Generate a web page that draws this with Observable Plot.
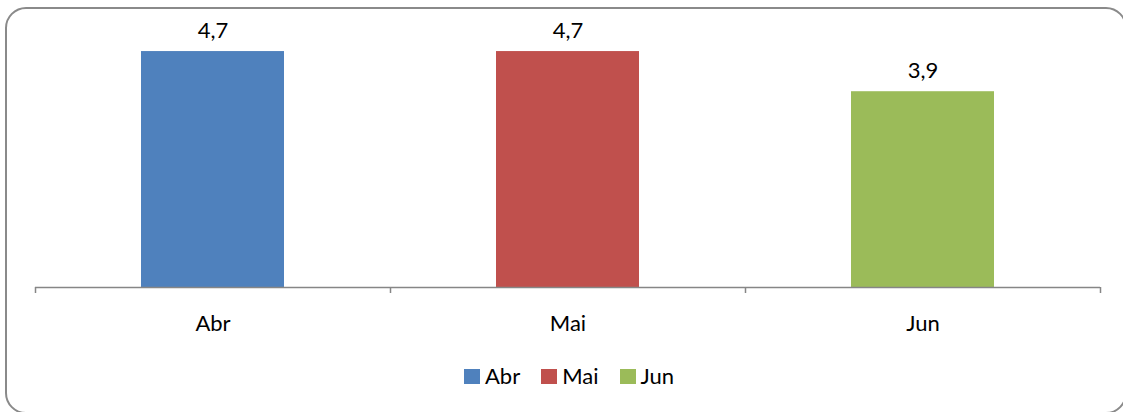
<!DOCTYPE html>
<html>
<head>
<meta charset="utf-8">
<script src="https://cdn.jsdelivr.net/npm/d3@7"></script>
<script src="https://cdn.jsdelivr.net/npm/@observablehq/plot@0.6"></script>
<style>
  html, body { margin: 0; padding: 0; background: #fff; overflow: hidden; }
  body { width: 1123px; height: 412px; position: relative; font-family: Lato, "Open Sans", sans-serif; }
  #frame { position: absolute; left: 5px; top: 7px; width: 1122px; height: 407px; border: 2px solid #8a8a8a; border-radius: 21px; box-sizing: border-box; }
  #chart { position: absolute; left: 0; top: 0; }
  #legend { position: absolute; left: 464px; top: 364px; display: flex; align-items: center; font-size: 22px; line-height: 24px; color: #000; }
  #legend .item { display: flex; align-items: center; margin-right: 21px; }
  #legend .sw { width: 16px; height: 15px; margin-right: 5px; }
</style>
</head>
<body>
<div id="frame"></div>
<div id="chart"></div>
<div id="legend"></div>
<script>
const categories = ["Abr", "Mai", "Jun"];
const values = [4.7, 4.7, 3.9];
const labels = ["4,7", "4,7", "3,9"];
const colors = ["#4F81BD", "#C0504D", "#9BBB59"];

const data = categories.map((c, i) => ({cat: c, value: values[i], label: labels[i]}));
const axisColor = "#868686";

const chart = Plot.plot({
  width: 1123,
  height: 345,
  marginLeft: 35,
  marginRight: 23,
  marginTop: 36,
  marginBottom: 58,
  style: {fontFamily: "Lato, 'Open Sans', sans-serif", fontSize: "22px", color: "#000", background: "transparent", overflow: "visible"},
  x: {domain: categories, padding: 0, axis: null},
  y: {domain: [0, 5], axis: null},
  color: {domain: categories, range: colors},
  marks: [
    Plot.barY(data, {x: "cat", y: "value", fill: "cat", insetLeft: 106, insetRight: 106}),
    Plot.ruleY([0], {stroke: axisColor, strokeWidth: 1.5}),
    Plot.ruleX(categories, {x: d => d, dx: -177.5, y1: 0, y2: -0.12, stroke: axisColor, strokeWidth: 1.5}),
    Plot.ruleX(categories.slice(-1), {x: d => d, dx: 177.5, y1: 0, y2: -0.12, stroke: axisColor, strokeWidth: 1.5}),
    Plot.text(data, {x: "cat", y: "value", text: "label", dy: -21, lineAnchor: "middle", fill: "#000", fontSize: 22}),
    Plot.text(categories, {x: d => d, y: 0, text: d => d, dy: 36, lineAnchor: "middle", fill: "#000", fontSize: 22})
  ]
});
document.getElementById("chart").appendChild(chart);

const legend = document.getElementById("legend");
categories.forEach((c, i) => {
  const item = document.createElement("div");
  item.className = "item";
  const sw = document.createElement("div");
  sw.className = "sw";
  sw.style.background = colors[i];
  const t = document.createElement("span");
  t.textContent = c;
  item.appendChild(sw);
  item.appendChild(t);
  legend.appendChild(item);
});
</script>
</body>
</html>
